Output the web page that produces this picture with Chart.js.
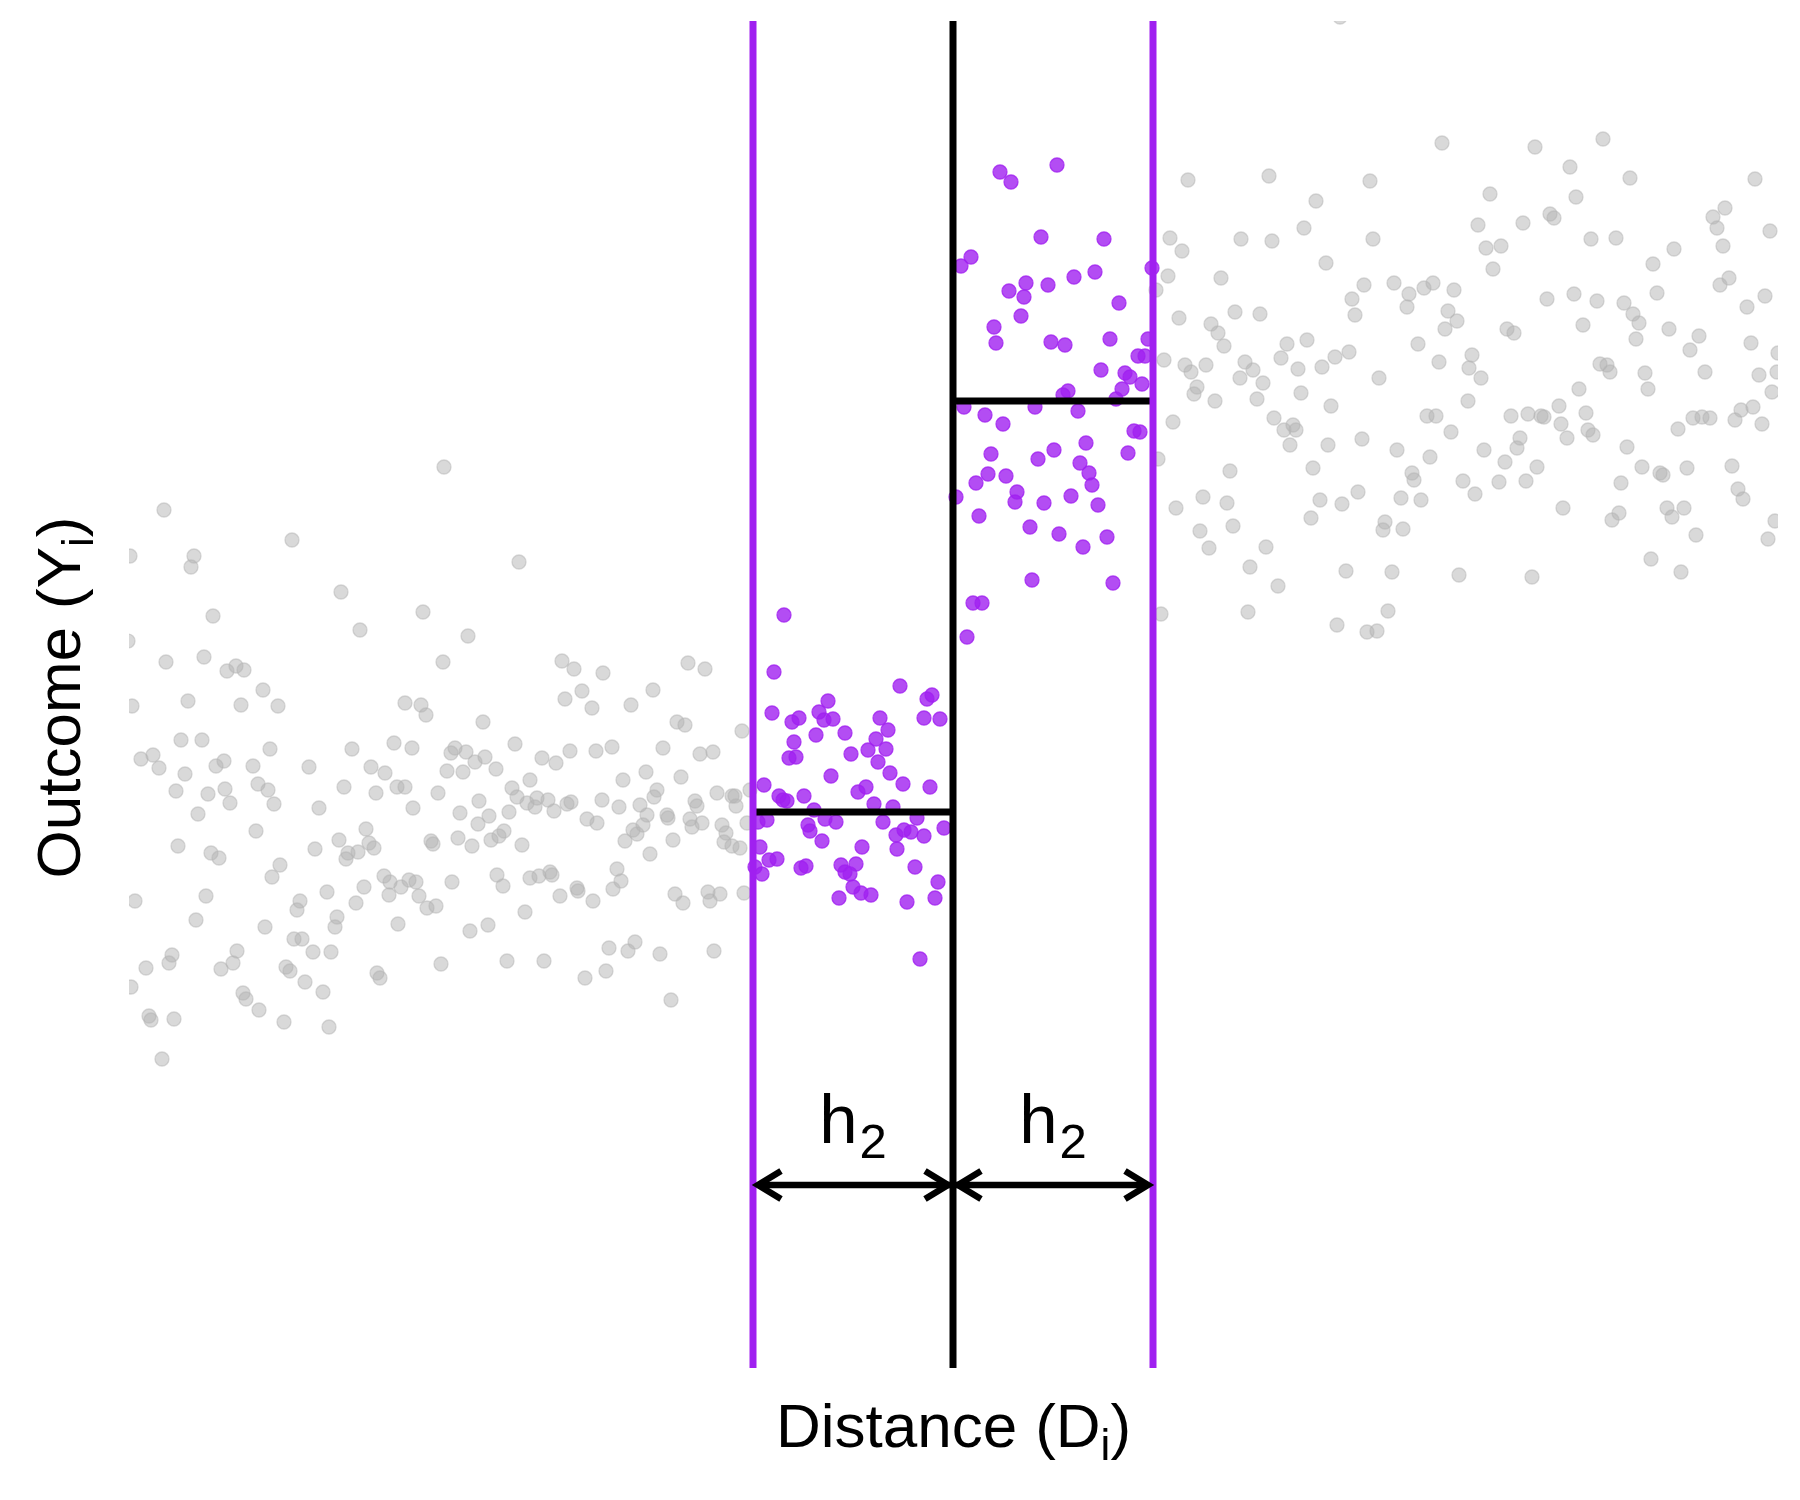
<!DOCTYPE html>
<html>
<head>
<meta charset="utf-8">
<script src="https://cdn.jsdelivr.net/npm/chart.js@4.4.1/dist/chart.umd.min.js"></script>
<style>
  html, body { margin: 0; padding: 0; background: #ffffff; }
  #wrap { width: 1800px; height: 1500px; }
  canvas { display: block; }
</style>
</head>
<body>
<div id="wrap"><canvas id="c" width="1800" height="1500"></canvas></div>
<script>
// ---------------- data ----------------
// distance D (cutoff at 0) and outcome Y
const cutoff = 0;
const bandwidth = 2;          // h2
const xRange = [-8.24, 8.25];
const yRange = [0, 13.47];
const meanLeft = 5.56;        // mean outcome inside band, left of cutoff
const meanRight = 9.67;       // mean outcome inside band, right of cutoff
const arrowLevel = 1.83;      // height of the h2 arrows
const labelLevel = 2.25;      // baseline of the h2 labels

const purpleLeft = [
[-1.69,7.53],[-1.79,6.96],[-0.53,6.82],[-0.26,6.69],[-0.21,6.73],[-1.81,6.55],[-1.61,6.46],[-1.54,6.50],[-1.34,6.56],[-1.25,6.67],
[-1.29,6.48],[-1.20,6.49],[-1.37,6.33],[-1.08,6.35],[-0.73,6.50],[-0.65,6.38],[-0.29,6.50],[-0.13,6.49],[-1.59,6.26],[-1.64,6.10],
[-1.57,6.11],[-1.02,6.14],[-0.77,6.29],[-0.85,6.18],[-0.67,6.19],[-0.75,6.06],[-1.22,5.92],[-0.63,5.95],[-0.50,5.84],[-0.23,5.81],
[-1.89,5.83],[-1.74,5.72],[-1.70,5.68],[-1.66,5.67],[-1.49,5.72],[-0.95,5.76],[-0.87,5.81],[-0.79,5.64],[-0.60,5.61],[-1.39,5.58],
[-1.86,5.48],[-1.95,5.46],[-1.45,5.43],[-1.43,5.37],[-1.28,5.49],[-1.17,5.46],[-0.70,5.46],[-0.36,5.50],[-0.57,5.33],[-0.49,5.38],
[-0.42,5.36],[-0.29,5.32],[-0.09,5.40],[-1.31,5.27],[-1.93,5.21],[-0.91,5.21],[-0.56,5.19],[-1.84,5.08],[-1.76,5.09],[-1.98,5.01],
[-1.91,4.94],[-1.52,5.00],[-1.47,5.02],[-1.12,5.03],[-0.97,5.04],[-1.08,4.96],[-1.03,4.94],[-0.38,5.01],[-0.15,4.86],[-1.00,4.81],
[-0.92,4.75],[-0.82,4.73],[-1.14,4.70],[-0.46,4.66],[-0.18,4.70],[-0.33,4.09]
];

const purpleRight = [
[0.47,11.96],[0.58,11.86],[1.04,12.03],[0.88,11.31],[1.51,11.29],[0.18,11.11],[0.08,11.02],[1.99,11.00],[0.56,10.77],[0.73,10.85],
[0.71,10.71],[0.95,10.83],[1.21,10.91],[1.42,10.96],[1.66,10.65],[0.68,10.52],[0.41,10.41],[0.43,10.25],[0.98,10.26],[1.12,10.23],
[1.57,10.29],[1.95,10.29],[1.85,10.12],[1.92,10.12],[1.48,9.98],[1.72,9.95],[1.77,9.91],[1.89,9.84],[1.69,9.79],[1.15,9.77],
[1.10,9.73],[1.63,9.69],[0.11,9.61],[0.82,9.61],[1.25,9.57],[0.32,9.53],[0.50,9.44],[1.81,9.37],[1.87,9.36],[1.33,9.25],
[0.38,9.14],[0.85,9.09],[1.01,9.18],[1.75,9.15],[1.27,9.05],[1.36,8.95],[1.39,8.83],[0.35,8.94],[0.53,8.92],[0.23,8.85],
[0.64,8.76],[0.62,8.66],[0.03,8.71],[0.91,8.65],[1.18,8.72],[1.45,8.63],[0.26,8.52],[0.77,8.41],[1.06,8.34],[1.30,8.21],
[1.54,8.31],[0.79,7.88],[1.60,7.85],[0.20,7.65],[0.29,7.65],[0.14,7.31]
];

const grayLeft = [
[-7.89,8.58],[-6.61,8.28],[-8.23,8.12],[-7.59,8.12],[-7.62,8.01],[-6.12,7.76],[-5.30,7.56],[-7.40,7.52],[-5.93,7.38],[-8.25,7.27],
[-7.87,7.06],[-7.49,7.11],[-7.26,6.97],[-7.17,7.02],[-7.09,6.98],[-5.10,7.06],[-6.90,6.78],[-8.21,6.62],[-7.65,6.67],[-7.12,6.63],
[-6.75,6.62],[-5.48,6.65],[-5.32,6.63],[-5.27,6.53],[-7.72,6.28],[-7.51,6.28],[-6.83,6.19],[-6.01,6.19],[-5.59,6.25],[-5.41,6.20],
[-8.12,6.09],[-8.00,6.13],[-7.94,6.00],[-7.68,5.94],[-7.37,6.02],[-7.29,6.07],[-7.00,6.02],[-6.44,6.01],[-5.82,6.01],[-5.68,5.95],
[-5.09,9.01],[-4.34,8.06],[-4.85,7.32],[-3.91,7.07],[-3.79,6.99],[-3.50,6.95],[-2.65,7.05],[-2.48,6.99],[-3.71,6.77],[-3.88,6.69],
[-3.61,6.60],[-3.22,6.63],[-3.00,6.78],[-4.70,6.46],[-2.76,6.46],[-2.68,6.43],[-2.11,6.37],[-4.38,6.24],[-4.98,6.20],[-5.02,6.15],
[-4.87,6.16],[-4.68,6.11],[-4.78,6.06],[-5.06,5.97],[-4.90,5.96],[-4.57,5.99],[-4.11,6.10],[-3.97,6.05],[-3.83,6.17],[-3.57,6.17],
[-3.41,6.21],[-2.90,6.20],[-2.53,6.14],[-2.40,6.16],[-3.07,5.96],[-4.23,5.88],[-3.30,5.88],[-2.72,5.91],
[-7.77,5.77],[-7.45,5.74],[-7.28,5.79],[-7.23,5.65],[-6.95,5.84],[-6.85,5.78],[-6.79,5.64],[-7.55,5.54],[-6.97,5.37],[-6.34,5.60],
[-6.09,5.81],[-5.77,5.75],[-5.56,5.81],[-5.48,5.81],[-5.40,5.60],[-5.15,5.75],[-4.74,5.67],[-4.93,5.55],[-4.64,5.52],[-4.75,5.44],
[-4.44,5.56],[-4.41,5.80],[-4.36,5.71],[-4.26,5.65],[-4.18,5.61],[-4.16,5.70],[-4.05,5.68],[-3.99,5.57],[-3.86,5.64],[-3.82,5.66],
[-3.51,5.68],[-3.34,5.61],[-3.13,5.63],[-2.96,5.78],[-2.99,5.71],[-3.06,5.53],[-2.86,5.53],[-2.85,5.50],[-3.66,5.49],[-3.56,5.45],
[-2.63,5.49],[-2.58,5.67],[-2.56,5.62],[-2.51,5.45],[-2.61,5.41],[-2.36,5.75],[-2.21,5.72],[-2.18,5.72],[-2.17,5.62],[-2.03,5.78],
[-2.31,5.43],[-2.27,5.35],[-2.29,5.26],[-2.21,5.22],[-2.13,5.20],[-2.06,5.45],[-2.80,5.28],[-3.03,5.14],[-3.28,5.27],[-3.20,5.38],
[-3.16,5.34],[-3.10,5.43],[-7.75,5.22],[-7.42,5.15],[-7.34,5.10],[-8.18,4.67],[-7.47,4.72],[-7.57,4.48],[-6.73,5.03],[-6.81,4.91],
[-6.38,5.19],[-6.14,5.28],[-6.05,5.15],[-6.07,5.09],[-5.95,5.16],[-5.87,5.39],[-5.84,5.25],[-5.79,5.20],[-5.22,5.27],[-5.20,5.24],
[-4.95,5.30],[-4.81,5.22],[-4.62,5.28],[-4.54,5.32],[-4.49,5.37],[-4.31,5.23],[-6.26,4.76],[-6.53,4.67],[-6.56,4.58],[-5.89,4.81],
[-5.97,4.65],[-5.69,4.92],[-5.63,4.86],[-5.64,4.73],[-5.52,4.81],[-5.44,4.88],[-5.37,4.86],[-5.34,4.72],[-5.26,4.60],[-5.17,4.62],
[-5.01,4.86],[-4.56,4.93],[-4.50,4.82],[-4.23,4.90],[-4.14,4.92],[-4.03,4.96],[-4.01,4.93],[-3.93,4.72],[-3.76,4.80],[-3.75,4.77],
[-3.60,4.67],[-3.40,4.79],[-3.36,4.99],[-3.32,4.87],[-2.78,4.74],[-2.70,4.65],[-2.45,4.76],[-2.43,4.67],[-2.33,4.74],[-2.09,4.75],
[-4.28,4.56],[-4.65,4.43],[-4.83,4.37],[-5.55,4.44],[-6.16,4.51],[-6.18,4.41],[-6.88,4.41],[-6.59,4.29],[-6.51,4.29],[-6.40,4.16],
[-6.22,4.16],[-7.16,4.17],[-7.20,4.05],[-7.32,3.99],[-7.81,4.13],[-7.84,4.05],[-8.07,4.00],[-8.22,3.81],[-6.67,4.01],[-6.63,3.97],
[-6.48,3.86],[-6.30,3.76],[-7.10,3.75],[-7.07,3.69],[-6.94,3.58],[-6.69,3.46],[-6.24,3.41],[-8.04,3.52],[-8.02,3.48],[-7.79,3.49],
[-7.91,3.09],[-5.76,3.95],[-5.73,3.90],[-5.12,4.04],[-4.46,4.07],[-4.09,4.07],[-3.68,3.90],[-3.47,3.97],[-3.44,4.20],[-3.25,4.17],
[-3.18,4.26],[-2.93,4.14],[-2.39,4.17],[-2.82,3.68]
];

const grayRight = [
[3.87,13.51],
[4.89,12.25],[2.35,11.88],[3.16,11.92],[4.17,11.87],[3.63,11.67],[3.51,11.40],[2.17,11.30],[2.29,11.17],[2.88,11.29],[3.19,11.27],
[4.20,11.29],[3.73,11.05],[2.15,10.92],[2.68,10.90],[2.03,10.78],[4.11,10.83],[3.99,10.69],[4.02,10.53],[4.41,10.85],[4.56,10.74],
[4.54,10.61],[4.71,10.80],[4.80,10.85],[5.01,10.78],[4.95,10.57],[5.04,10.47],[4.92,10.39],[2.26,10.50],[2.82,10.56],[3.07,10.54],
[2.58,10.44],[2.65,10.35],[2.71,10.22],[3.34,10.24],[3.54,10.28],[4.65,10.24],[2.11,10.08],[2.32,10.03],[2.38,9.96],[2.53,10.03],
[2.92,10.06],[3.00,9.98],[2.87,9.90],[3.10,9.85],[3.28,10.10],[3.45,9.99],[3.69,10.01],[3.82,10.11],[3.96,10.16],[4.26,9.90],
[4.86,10.06],[2.44,9.81],[2.41,9.74],[2.62,9.67],[3.04,9.69],[3.48,9.75],[3.78,9.62],[2.20,9.46],[3.21,9.50],[3.31,9.38],
[3.40,9.43],[3.43,9.38],[3.37,9.23],[3.75,9.23],[4.09,9.29],[4.44,9.18],[4.74,9.52],[4.83,9.52],[4.98,9.36],
[5.82,12.21],[6.50,12.29],[6.17,12.01],[6.77,11.90],[8.02,11.89],[5.37,11.74],[6.23,11.71],[5.25,11.43],[5.70,11.45],[5.97,11.54],
[6.01,11.50],[5.33,11.20],[5.48,11.22],[5.40,10.99],[6.38,11.29],[6.63,11.30],[7.60,11.51],[7.72,11.60],[7.64,11.40],[8.17,11.37],
[7.70,11.22],[7.21,11.19],[7.00,11.04],[7.76,10.90],[7.67,10.83],[7.04,10.75],[5.94,10.69],[6.21,10.74],[6.44,10.67],[6.71,10.65],
[6.80,10.54],[6.86,10.45],[6.83,10.29],[7.16,10.39],[7.46,10.32],[7.37,10.18],[7.94,10.61],[8.12,10.72],[7.98,10.25],[5.54,10.39],
[5.61,10.35],[6.30,10.43],[5.19,10.13],[5.16,10.00],[5.28,9.90],[5.15,9.67],[6.47,10.04],[6.54,10.03],[6.57,9.96],[6.92,9.95],
[6.95,9.79],[7.52,9.96],[8.06,9.93],[8.25,10.15],[8.24,9.96],[8.19,9.76],[6.26,9.79],[6.06,9.62],[5.58,9.52],[5.75,9.54],
[5.88,9.52],[5.91,9.51],[6.08,9.44],[6.33,9.55],[6.35,9.38],[6.40,9.33],[6.14,9.30],[5.67,9.30],[5.64,9.20],[5.31,9.18],
[6.74,9.21],[7.25,9.39],[7.40,9.50],[7.49,9.51],[7.57,9.50],[7.82,9.48],[7.88,9.58],[8.00,9.61],[8.09,9.44],
[2.05,9.09],[4.77,9.11],[2.77,8.97],[3.60,9.00],[5.52,9.06],[5.84,9.01],[6.89,9.01],[7.07,8.95],[7.10,8.93],[7.34,9.00],
[7.79,9.02],[4.59,8.95],[4.61,8.88],[5.10,8.87],[5.46,8.86],[5.73,8.87],[6.68,8.85],[7.85,8.79],[7.90,8.69],[2.23,8.60],
[2.50,8.71],[2.74,8.65],[3.67,8.68],[3.89,8.64],[4.05,8.76],[4.48,8.70],[4.68,8.68],[5.22,8.74],[6.10,8.60],[6.66,8.55],
[6.59,8.48],[7.14,8.60],[7.31,8.60],[7.19,8.51],[8.22,8.47],[8.15,8.29],[7.43,8.33],[6.98,8.09],[7.28,7.96],[2.47,8.37],
[2.80,8.42],[3.58,8.50],[4.32,8.46],[4.30,8.38],[4.50,8.39],[2.56,8.20],[3.13,8.21],[2.97,8.01],[3.25,7.82],[3.93,7.97],
[4.39,7.96],[5.06,7.93],[5.79,7.91],[2.08,7.54],[2.95,7.56],[4.35,7.57],[3.84,7.43],[4.14,7.36],[4.24,7.37]
];

// ---------------- styles ----------------
const FONT = '"Liberation Sans", Arial, Helvetica, sans-serif';
const PURPLE = '#A020F0';
const toXY = arr => arr.map(p => ({ x: p[0], y: p[1] }));

function pointSet(data, fill, stroke, order) {
  return {
    data: toXY(data), showLine: false, order: order, clip: 0,
    pointRadius: 7, pointHoverRadius: 7, borderWidth: 1.3,
    backgroundColor: fill, borderColor: stroke, pointBackgroundColor: fill, pointBorderColor: stroke
  };
}
function segment(x0, y0, x1, y1, color, order) {
  return {
    data: [{ x: x0, y: y0 }, { x: x1, y: y1 }], showLine: true, order: order, clip: 0,
    borderColor: color, borderWidth: 7, pointRadius: 0, pointHoverRadius: 0, fill: false,
    borderCapStyle: 'butt', tension: 0
  };
}

// ---------------- overlay: arrows, labels and axis titles ----------------
function richText(ctx, parts, cx, cy, rotate) {
  ctx.save();
  ctx.translate(cx, cy);
  if (rotate) ctx.rotate(-Math.PI / 2);
  ctx.textAlign = 'left';
  ctx.textBaseline = 'alphabetic';
  ctx.fillStyle = '#000';
  let total = 0;
  const w = parts.map(p => { ctx.font = p.size + 'px ' + FONT; const v = ctx.measureText(p.text).width + (p.gap || 0); total += v; return v; });
  let x = -total / 2;
  parts.forEach((p, i) => {
    ctx.font = p.size + 'px ' + FONT;
    ctx.fillText(p.text, x + (p.gap || 0), p.dy || 0);
    x += w[i];
  });
  ctx.restore();
}

const overlay = {
  id: 'overlay',
  afterDraw(chart) {
    const ctx = chart.ctx, xs = chart.scales.x, ys = chart.scales.y, ca = chart.chartArea;
    const xl = xs.getPixelForValue(cutoff - bandwidth);
    const xc = xs.getPixelForValue(cutoff);
    const xr = xs.getPixelForValue(cutoff + bandwidth);
    const ya = ys.getPixelForValue(arrowLevel);
    ctx.save();
    ctx.strokeStyle = '#000';
    ctx.lineWidth = 6.5;
    ctx.lineCap = 'butt';
    ctx.lineJoin = 'miter';
    const inset = 5, L = 23, H = 14;
    ctx.beginPath();
    ctx.moveTo(xl + inset, ya); ctx.lineTo(xr - inset, ya);
    ctx.stroke();
    const head = (tip, dir) => {
      ctx.beginPath();
      ctx.moveTo(tip + dir * L, ya - H);
      ctx.lineTo(tip, ya);
      ctx.lineTo(tip + dir * L, ya + H);
      ctx.stroke();
    };
    head(xl + inset, 1); head(xc - inset, -1); head(xc + inset, 1); head(xr - inset, -1);
    ctx.restore();

    const yl = ys.getPixelForValue(labelLevel);
    const lab = [{ text: 'h', size: 69 }, { text: '2', size: 49, dy: 15, gap: 2 }];
    richText(ctx, lab, (xl + xc) / 2, yl, false);
    richText(ctx, lab, (xc + xr) / 2, yl, false);

    // axis titles
    const cxm = (ca.left + ca.right) / 2;
    const cym = (ca.top + ca.bottom) / 2;
    richText(ctx, [
      { text: 'Distance', size: 62 }, { text: '(D', size: 62, gap: 18 },
      { text: 'i', size: 44, dy: 13 }, { text: ')', size: 62 }
    ], cxm, ca.bottom + 79, false);
    richText(ctx, [
      { text: 'Outcome', size: 62 }, { text: '(Y', size: 62, gap: 18 },
      { text: 'i', size: 44, dy: 13 }, { text: ')', size: 62 }
    ], ca.left - 49, cym + 3, true);
  }
};

// ---------------- chart ----------------
new Chart(document.getElementById('c'), {
  type: 'scatter',
  data: {
    datasets: [
      pointSet(grayLeft, 'rgba(179,179,179,0.5)', 'rgba(179,179,179,0.5)', 10),
      pointSet(grayRight, 'rgba(179,179,179,0.5)', 'rgba(179,179,179,0.5)', 10),
      pointSet(purpleLeft, 'rgba(160,32,240,0.8)', 'rgba(160,32,240,0.8)', 9),
      pointSet(purpleRight, 'rgba(160,32,240,0.8)', 'rgba(160,32,240,0.8)', 9),
      segment(cutoff - bandwidth, meanLeft, cutoff, meanLeft, '#000000', 3),
      segment(cutoff, meanRight, cutoff + bandwidth, meanRight, '#000000', 3),
      segment(cutoff - bandwidth, yRange[0], cutoff - bandwidth, yRange[1], PURPLE, 2),
      segment(cutoff + bandwidth, yRange[0], cutoff + bandwidth, yRange[1], PURPLE, 2),
      segment(cutoff, yRange[0], cutoff, yRange[1], '#000000', 1)
    ]
  },
  options: {
    responsive: false,
    animation: false,
    devicePixelRatio: 1,
    layout: { padding: { left: 129, right: 22, top: 21, bottom: 132 } },
    plugins: { legend: { display: false }, tooltip: { enabled: false } },
    events: [],
    scales: {
      x: { type: 'linear', min: xRange[0], max: xRange[1], display: false },
      y: { type: 'linear', min: yRange[0], max: yRange[1], display: false }
    }
  },
  plugins: [overlay]
});
</script>
</body>
</html>
